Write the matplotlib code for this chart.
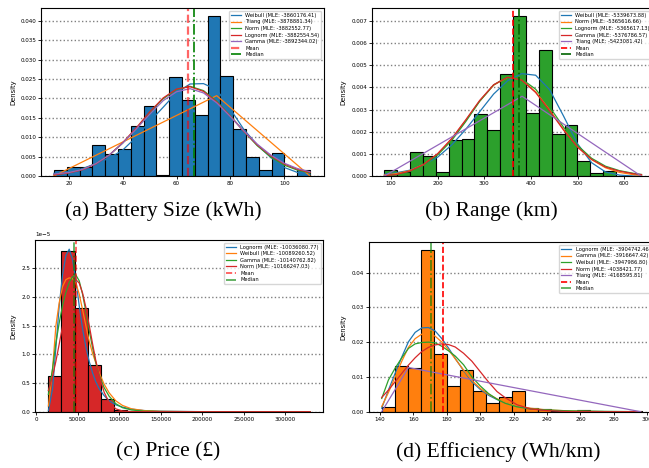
import numpy as np
import matplotlib
matplotlib.use("Agg")
import matplotlib.pyplot as plt

W, H = 649, 468

# ---- (a) Battery size (kWh) ----
A_EDGES = np.linspace(14.4, 109.6, 21)
A_HIST = [0.0015, 0.0022, 0.0022, 0.0079, 0.0056, 0.0070, 0.0130, 0.0181, 0.0003, 0.0254,
          0.0196, 0.0156, 0.0411, 0.0258, 0.0122, 0.0049, 0.0015, 0.0058, 0.0, 0.0015]
A_X = [14.4, 20, 25, 30, 35, 40, 45, 50, 55, 60, 65, 70, 75, 80, 85, 90, 95, 100, 105, 109.6]
A_WEIBULL = [0.0007, 0.0012, 0.0019, 0.0032, 0.0046, 0.0067, 0.0100, 0.0140, 0.0177, 0.0215,
             0.0237, 0.0238, 0.0222, 0.0172, 0.0120, 0.0080, 0.0048, 0.0022, 0.0009, 0.0004]
A_NORM = [0.00035, 0.00085, 0.0017, 0.0032, 0.0054, 0.0085, 0.0122, 0.0163, 0.0199, 0.0223,
          0.0231, 0.0220, 0.0192, 0.0155, 0.0115, 0.0078, 0.0049, 0.0028, 0.0015, 0.0008]
A_LOGNORM = [0.0003, 0.0008, 0.0016, 0.0031, 0.0054, 0.0086, 0.0124, 0.0165, 0.0201, 0.0224,
             0.0230, 0.0218, 0.0190, 0.0154, 0.0115, 0.0080, 0.0052, 0.0031, 0.0017, 0.0009]
A_GAMMA = [0.0005, 0.0009, 0.0017, 0.0032, 0.0054, 0.0085, 0.0121, 0.0159, 0.0194, 0.0217,
           0.0225, 0.0214, 0.0188, 0.0153, 0.0116, 0.0082, 0.0054, 0.0033, 0.0019, 0.0011]
A_TRIANG_X = [14.4, 74.9, 109.6]
A_TRIANG = [0.0, 0.0207, 0.0]
A_MEAN, A_MEDIAN = 64.2, 66.6

# ---- (b) Range (km) ----
B_EDGES = np.linspace(85.7, 637.7, 21)
B_HIST = [0.00026, 0.0002, 0.00107, 0.00089, 0.0002, 0.00161, 0.00166, 0.0028, 0.00206, 0.00459,
          0.00721, 0.00285, 0.00568, 0.00188, 0.0023, 0.00066, 0.00014, 0.00024, 0.0, 0.00002]
B_X = [86, 110, 140, 170, 200, 230, 260, 290, 320, 350, 380, 410, 440, 470, 500, 530, 560, 590, 620, 637]
B_WEIBULL = [0.00008, 0.00014, 0.00026, 0.00052, 0.00085, 0.0014, 0.0021, 0.0029, 0.0037, 0.0043,
             0.00462, 0.00455, 0.0039, 0.0027, 0.00145, 0.0006, 0.00018, 0.00004, 0.0, 0.0]
B_NORM = [0.00005, 0.0001, 0.00024, 0.00052, 0.00099, 0.00166, 0.0025, 0.00338, 0.0041, 0.00446,
          0.00435, 0.0038, 0.00298, 0.0021, 0.00132, 0.00074, 0.00037, 0.00016, 0.00006, 0.00003]
B_LOGNORM = [0.00002, 0.00005, 0.0002, 0.00048, 0.00095, 0.0016, 0.00245, 0.00337, 0.00411, 0.00448,
             0.00438, 0.00392, 0.00312, 0.0022, 0.00138, 0.0008, 0.00044, 0.00024, 0.00012, 0.00007]
B_GAMMA = [0.00002, 0.00006, 0.00022, 0.00052, 0.00101, 0.00169, 0.00253, 0.00341, 0.00412, 0.00446,
           0.00433, 0.00377, 0.00295, 0.00207, 0.0013, 0.00075, 0.0004, 0.00022, 0.0001, 0.00006]
B_TRIANG_X = [85.7, 381, 636]
B_TRIANG = [0.0, 0.0036, 0.0]
B_MEAN, B_MEDIAN = 361, 375

# ---- (c) Price (GBP), densities in units of 1e-5 ----
C_EDGES = np.linspace(14950, 329950, 21)
C_HIST = np.array([0.627, 2.80, 1.81, 0.81, 0.215, 0.023, 0.008, 0.006, 0.0, 0.003,
                   0, 0, 0, 0, 0, 0, 0, 0, 0, 0.001]) * 1e-5
C_X = [14950, 20000, 24000, 28000, 32000, 36000, 40000, 44000, 48000, 52000, 56000, 60000, 64000,
       68000, 72000, 76000, 82000, 88000, 96000, 104000, 115000, 130000, 150000, 200000, 330000]
C_LOGNORM = np.array([0.02, 0.40, 1.12, 1.85, 2.38, 2.72, 2.83, 2.65, 2.30, 1.85, 1.45, 1.13, 0.88,
                      0.68, 0.52, 0.40, 0.28, 0.19, 0.12, 0.08, 0.045, 0.02, 0.008, 0.001, 0.0]) * 1e-5
C_WEIBULL = np.array([0.10, 0.75, 1.50, 1.90, 2.18, 2.30, 2.33, 2.32, 2.24, 2.05, 1.78, 1.50, 1.23,
                      1.02, 0.85, 0.68, 0.48, 0.33, 0.19, 0.11, 0.05, 0.02, 0.006, 0.0, 0.0]) * 1e-5
C_GAMMA = np.array([0.30, 0.75, 1.20, 1.55, 1.85, 2.08, 2.25, 2.35, 2.38, 2.28, 2.05, 1.75, 1.42,
                    1.12, 0.86, 0.64, 0.42, 0.27, 0.14, 0.07, 0.03, 0.01, 0.003, 0.0, 0.0]) * 1e-5
C_NORM = np.array([0.37, 0.62, 0.88, 1.18, 1.49, 1.80, 2.06, 2.24, 2.30, 2.24, 2.07, 1.82, 1.51,
                   1.19, 0.89, 0.63, 0.34, 0.16, 0.05, 0.013, 0.001, 0.0, 0.0, 0.0, 0.0]) * 1e-5
C_MEAN, C_MEDIAN = 48100, 45400

# ---- (d) Efficiency (Wh/km) ----
D_EDGES = np.linspace(141.0, 296.6, 21)
D_HIST = [0.0014, 0.0132, 0.0127, 0.0464, 0.0166, 0.0073, 0.0119, 0.0059, 0.0025, 0.0041,
          0.0059, 0.0010, 0.0007, 0.0003, 0.0002, 0.0004, 0.0001, 0.0, 0.0, 0.0001]
D_X = [141, 145, 149, 153, 157, 161, 165, 169, 173, 177, 181, 185, 190, 195, 200, 205, 210, 215,
       222, 230, 240, 255, 275, 296]
D_LOGNORM = [0.0010, 0.0062, 0.0110, 0.0157, 0.0201, 0.0228, 0.0241, 0.0242, 0.0232, 0.0210, 0.0183, 0.0153,
             0.0118, 0.0086, 0.0064, 0.0047, 0.0035, 0.0026, 0.0016, 0.0009, 0.0004, 0.0001, 0.0, 0.0]
D_GAMMA = [0.0015, 0.0055, 0.0100, 0.0145, 0.0185, 0.0210, 0.0223, 0.0225, 0.0217, 0.0200, 0.0178, 0.0152,
           0.0120, 0.0090, 0.0067, 0.0050, 0.0037, 0.0027, 0.0017, 0.0010, 0.0005, 0.0002, 0.0, 0.0]
D_WEIBULL = [0.0038, 0.0091, 0.0125, 0.0155, 0.0182, 0.0195, 0.0199, 0.0200, 0.0198, 0.0188, 0.0175, 0.0160,
             0.0135, 0.0100, 0.0074, 0.0052, 0.0036, 0.0024, 0.0014, 0.0008, 0.0005, 0.0002, 0.0001, 0.0]
D_NORM = [0.0041, 0.0062, 0.0086, 0.0110, 0.0134, 0.0155, 0.0173, 0.0185, 0.0192, 0.0195, 0.0193, 0.0186,
          0.0168, 0.0145, 0.0115, 0.0085, 0.0058, 0.0040, 0.0020, 0.0008, 0.0003, 0.0, 0.0, 0.0]
D_TRIANG_X = [141, 157, 296]
D_TRIANG = [0.0, 0.0127, 0.0]
D_MEAN, D_MEDIAN = 177.5, 170.5

C0, C1, C2, C3, C4 = "#1f77b4", "#ff7f0e", "#2ca02c", "#d62728", "#9467bd"

fig = plt.figure(figsize=(W / 100, H / 100), dpi=100)


def panel(box, edges, heights, fill, curves, mean, median, xlim, ylim, label_x,
          mean_alpha=1.0, median_color="green", median_alpha=1.0, mean_lw=1.2):
    left, top, right, bottom = box
    ax = fig.add_axes([left / W, 1 - bottom / H, (right - left) / W, (bottom - top) / H])
    ax.bar(edges[:-1], heights, width=np.diff(edges), align="edge", color=fill,
           edgecolor="black", linewidth=0.8)
    for label, x, y, c in curves:
        ax.plot(x, y, color=c, lw=0.9, label=label)
    ax.axvline(mean, color="red", ls="--", lw=mean_lw, alpha=mean_alpha, label="Mean")
    ax.axvline(median, color=median_color, ls="-.", lw=1.2, alpha=median_alpha, label="Median")
    ax.set_xlim(*xlim)
    ax.set_ylim(*ylim)
    ax.set_axisbelow(True)
    ax.grid(axis="y", linestyle=":", color="gray", linewidth=1.0)
    ax.tick_params(labelsize=4.1, length=2, width=0.6, pad=1.5)
    ax.yaxis.get_offset_text().set_fontsize(4.1)
    ax.set_ylabel("Density", fontsize=4.9)
    ax.yaxis.set_label_coords(label_x, 0.5)
    ax.legend(loc="upper right", fontsize=3.7, labelspacing=0.3, borderpad=0.4)
    return ax


panel((41, 8.3, 324, 176), A_EDGES, A_HIST, C0,
      [("Weibull (MLE: -3860176.41)", A_X, A_WEIBULL, C0),
       ("Triang (MLE: -3878881.34)", A_TRIANG_X, A_TRIANG, C1),
       ("Norm (MLE: -3882552.77)", A_X, A_NORM, C2),
       ("Lognorm (MLE: -3882554.54)", A_X, A_LOGNORM, C3),
       ("Gamma (MLE: -3892344.02)", A_X, A_GAMMA, C4)],
      A_MEAN, A_MEDIAN, (9.6, 114.8), (0, 0.0432), -0.087,
      mean_alpha=0.6, mean_lw=1.6)

panel((372.3, 8.3, 654.3, 176), B_EDGES, B_HIST, C2,
      [("Weibull (MLE: -5339673.88)", B_X, B_WEIBULL, C0),
       ("Norm (MLE: -5365616.66)", B_X, B_NORM, C1),
       ("Lognorm (MLE: -5365617.13)", B_X, B_LOGNORM, C2),
       ("Gamma (MLE: -5376786.57)", B_X, B_GAMMA, C3),
       ("Triang (MLE: -5423081.42)", B_TRIANG_X, B_TRIANG, C4)],
      B_MEAN, B_MEDIAN, (59.9, 664.4), (0, 0.00757), -0.093,
      median_color="darkgreen")

panel((35.3, 240, 323.3, 411.7), C_EDGES, C_HIST, C3,
      [("Lognorm (MLE: -10036080.77)", C_X, C_LOGNORM, C0),
       ("Weibull (MLE: -10089260.52)", C_X, C_WEIBULL, C1),
       ("Gamma (MLE: -10140762.82)", C_X, C_GAMMA, C2),
       ("Norm (MLE: -10166247.03)", C_X, C_NORM, C3)],
      C_MEAN, C_MEDIAN, (-800, 345700), (0, 2.99e-5), -0.067,
      mean_alpha=0.7, median_alpha=0.7)

panel((368.7, 242.3, 654.8, 411.7), D_EDGES, D_HIST, C1,
      [("Lognorm (MLE: -3904742.46)", D_X, D_LOGNORM, C0),
       ("Gamma (MLE: -3916647.42)", D_X, D_GAMMA, C1),
       ("Weibull (MLE: -3947986.80)", D_X, D_WEIBULL, C2),
       ("Norm (MLE: -4038421.77)", D_X, D_NORM, C3),
       ("Triang (MLE: -4168595.81)", D_TRIANG_X, D_TRIANG, C4)],
      D_MEAN, D_MEDIAN, (133.2, 304.5), (0, 0.0487), -0.079,
      median_alpha=0.7)

CAPTIONS = ["(a) Battery Size (kWh)", "(b) Range (km)", "(c) Price (£)", "(d) Efficiency (Wh/km)"]
for text, (cx, cy) in zip(CAPTIONS, [(163, 211), (491, 211), (168, 452), (498, 452)]):
    fig.text(cx / W, 1 - cy / H, text, ha="center", va="center",
             fontsize=15.5, family="Liberation Serif")

fig.savefig("out.png", dpi=100)
